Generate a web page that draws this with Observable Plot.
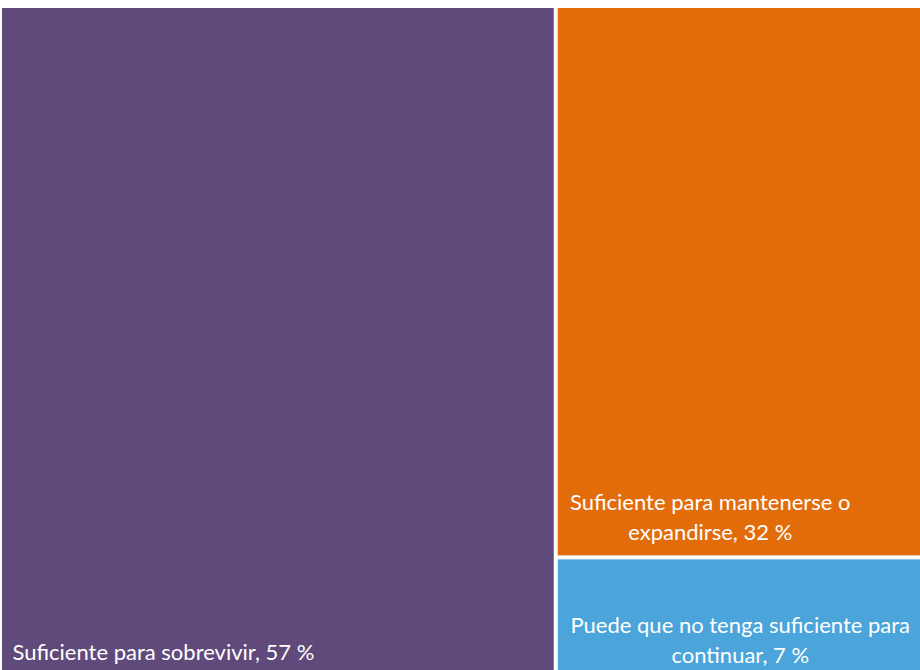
<!DOCTYPE html>
<html>
<head>
<meta charset="utf-8">
<script src="https://cdn.jsdelivr.net/npm/d3@7"></script>
<script src="https://cdn.jsdelivr.net/npm/@observablehq/plot@0.6"></script>
<style>
  html, body { margin: 0; padding: 0; background: #fff; }
  svg { display: block; }
</style>
</head>
<body>
<div id="chart"></div>
<script>
const categories = [
  "Suficiente para sobrevivir",
  "Suficiente para mantenerse o expandirse",
  "Puede que no tenga suficiente para continuar"
];
const values = [57, 32, 7];
const labels = [
  "Suficiente para sobrevivir, 57 %",
  "Suficiente para mantenerse o\nexpandirse, 32 %",
  "Puede que no tenga suficiente para\ncontinuar, 7 %"
];
const colors = ["#604A7B", "#E36C0A", "#4BA5DA"];

const W = 932, H = 668;
const root = d3.hierarchy({children: categories.map((c, i) => ({name: c, value: values[i], i}))})
  .sum(d => d.value || 0);
d3.treemap().tile(d3.treemapBinary).size([W, H]).paddingInner(4).round(false)(root);
const cells = root.leaves().map(l => ({
  name: l.data.name, i: l.data.i, label: labels[l.data.i],
  x0: l.x0, x1: l.x1, y0: l.y0, y1: l.y1
}));

const chart = Plot.plot({
  width: 920,
  height: 670,
  margin: 0,
  x: {domain: [0, W], range: [2, 2 + W], axis: null},
  y: {domain: [0, H], range: [8, 8 + H], axis: null},
  color: {domain: categories, range: colors},
  style: {fontFamily: "Lato, 'Open Sans', sans-serif"},
  marks: [
    Plot.rect(cells, {x1: "x0", x2: "x1", y1: "y0", y2: "y1", fill: "name"}),
    Plot.text(cells.filter(d => d.i === 0), {
      x: "x0", y: "y1", text: "label", textAnchor: "start", lineAnchor: "bottom",
      dx: 10, dy: -17, fill: "white", fontSize: 22
    }),
    Plot.text(cells.filter(d => d.i === 1), {
      x: "x0", y: "y1", text: "label", textAnchor: "middle", lineAnchor: "bottom",
      dx: 152, dy: -16, fill: "white", fontSize: 22, lineHeight: 1.37
    }),
    Plot.text(cells.filter(d => d.i === 2), {
      x: "x0", y: "y0", text: "label", textAnchor: "middle", lineAnchor: "top",
      dx: 182, dy: 52, fill: "white", fontSize: 22, lineHeight: 1.37
    })
  ]
});
document.getElementById("chart").appendChild(chart);
</script>
</body>
</html>
